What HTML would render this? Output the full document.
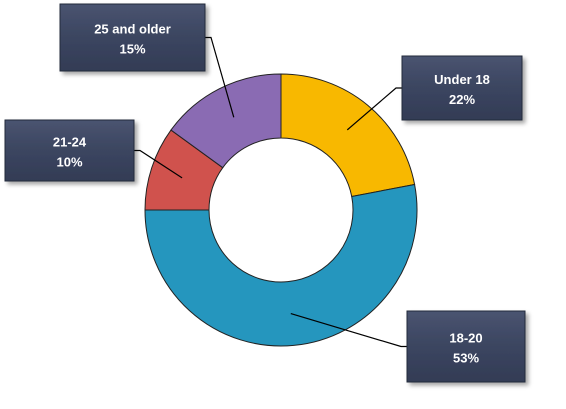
<!DOCTYPE html>
<html><head><meta charset="utf-8"><style>
body{margin:0;background:#fff;width:566px;height:404px;overflow:hidden;font-family:"Liberation Sans",sans-serif}
</style></head><body>
<svg width="566" height="404">
<defs>
<linearGradient id="bx" x1="0" y1="0" x2="0" y2="1"><stop offset="0" stop-color="#4a5470"/><stop offset="0.5" stop-color="#3b4560"/><stop offset="1" stop-color="#333c55"/></linearGradient>
<filter id="sh" x="-20%" y="-20%" width="150%" height="150%"><feDropShadow dx="3" dy="3" stdDeviation="2" flood-color="#000" flood-opacity="0.35"/></filter>
</defs>
<g id="slices"></g>
<g id="labels"></g>
</svg>
<script>
const categories=["Under 18","18-20","21-24","25 and older"];
const values=[22,53,10,15];
const colors=["#F8B800","#2596BE","#D0524D","#8A6BB3"];
const boxes=[[402,56,120,64],[407,311,118,71],[5,120,129,61],[60,4,145,67]];
const cx=281,cy=210,R=136,r=72;
const ns="http://www.w3.org/2000/svg";
const total=values.reduce((a,b)=>a+b,0);
function pt(a,rad){return [cx+rad*Math.sin(a),cy-rad*Math.cos(a)];}
let a0=0;
const gS=document.getElementById("slices"),gL=document.getElementById("labels");
values.forEach((v,i)=>{
  const a1=a0+v/total*2*Math.PI;
  const lg=(a1-a0)>Math.PI?1:0;
  const p1=pt(a0,R),p2=pt(a1,R),p3=pt(a1,r),p4=pt(a0,r);
  const p=document.createElementNS(ns,"path");
  p.setAttribute("d",`M${p1}A${R},${R} 0 ${lg} 1 ${p2}L${p3}A${r},${r} 0 ${lg} 0 ${p4}Z`);
  p.setAttribute("fill",colors[i]);p.setAttribute("stroke","#222");p.setAttribute("stroke-width","1");
  
  
  gS.appendChild(p);
  const mid=(a0+a1)/2,m=pt(mid,(R+r)/2);
  const b=boxes[i];
  const bx=b[0]+b[2]/2<cx?b[0]+b[2]:b[0], by=b[1]+b[3]/2;
  const ln=document.createElementNS(ns,"polyline");
  ln.setAttribute("points",`${bx},${by} ${bx+(bx<cx?6:-6)},${by} ${m}`);
  ln.setAttribute("fill","none");ln.setAttribute("stroke","#000");ln.setAttribute("stroke-width","1.2");
  
  
  gL.appendChild(ln);
  const g=document.createElementNS(ns,"g");
  
  
  const rc=document.createElementNS(ns,"rect");
  rc.setAttribute("x",b[0]);rc.setAttribute("y",b[1]);rc.setAttribute("width",b[2]);rc.setAttribute("height",b[3]);
  rc.setAttribute("fill","url(#bx)");rc.setAttribute("stroke","#222a3a");rc.setAttribute("filter","url(#sh)");
  g.appendChild(rc);
  [categories[i],Math.round(v/total*100)+"%"].forEach((t,k)=>{
    const tx=document.createElementNS(ns,"text");
    tx.setAttribute("x",b[0]+b[2]/2);tx.setAttribute("y",by-4+k*20);
    tx.setAttribute("text-anchor","middle");tx.setAttribute("fill","#fff");
    tx.setAttribute("font-size","13");tx.setAttribute("font-weight","bold");
    tx.textContent=t;g.appendChild(tx);
  });
  gL.appendChild(g);
  a0=a1;
});
</script>
</body></html>
